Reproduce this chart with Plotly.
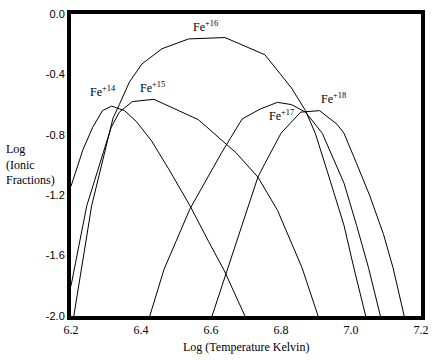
import plotly.graph_objects as go

# Log T (x) and Log ionic fraction (y) for each ion
fe14_x = [6.200, 6.234, 6.262, 6.290, 6.316, 6.353, 6.386, 6.430, 6.480, 6.540, 6.593, 6.638, 6.697]
fe14_y = [-1.14, -0.90, -0.75, -0.64, -0.61, -0.64, -0.71, -0.84, -1.03, -1.27, -1.506, -1.70, -2.00]

fe15_x = [6.200, 6.245, 6.300, 6.315, 6.338, 6.375, 6.437, 6.490, 6.564, 6.672, 6.734, 6.790, 6.840, 6.860, 6.906]
fe15_y = [-1.80, -1.27, -0.86, -0.75, -0.65, -0.58, -0.565, -0.62, -0.70, -0.92, -1.08, -1.30, -1.58, -1.68, -2.00]

fe16_x = [6.208, 6.259, 6.300, 6.320, 6.338, 6.367, 6.403, 6.460, 6.536, 6.640, 6.754, 6.830, 6.870, 6.898, 6.940, 6.980, 7.008, 7.042]
fe16_y = [-2.00, -1.27, -0.88, -0.69, -0.60, -0.45, -0.33, -0.23, -0.165, -0.156, -0.27, -0.49, -0.64, -0.79, -1.10, -1.40, -1.68, -2.00]

fe17_x = [6.425, 6.466, 6.500, 6.540, 6.630, 6.689, 6.740, 6.790, 6.830, 6.870, 6.918, 6.980, 7.016, 7.050, 7.084]
fe17_y = [-2.00, -1.69, -1.506, -1.29, -0.92, -0.695, -0.63, -0.585, -0.60, -0.65, -0.79, -1.12, -1.40, -1.68, -2.00]

fe18_x = [6.603, 6.668, 6.734, 6.754, 6.800, 6.856, 6.910, 6.960, 6.980, 7.016, 7.053, 7.093, 7.120, 7.152]
fe18_y = [-2.00, -1.55, -1.08, -0.99, -0.79, -0.65, -0.64, -0.73, -0.79, -0.99, -1.20, -1.46, -1.68, -2.00]

labels = ["Fe<sup>+14</sup>", "Fe<sup>+15</sup>", "Fe<sup>+16</sup>", "Fe<sup>+17</sup>", "Fe<sup>+18</sup>"]
label_x = [6.290, 6.432, 6.584, 6.800, 6.951]
label_y = [-0.513, -0.49, -0.084, -0.67, -0.56]

x_ticks = [6.2, 6.4, 6.6, 6.8, 7.0, 7.2]
y_ticks = [0.0, -0.4, -0.8, -1.2, -1.6, -2.0]

series = [(fe14_x, fe14_y), (fe15_x, fe15_y), (fe16_x, fe16_y), (fe17_x, fe17_y), (fe18_x, fe18_y)]

fig = go.Figure()
for (xs, ys), name in zip(series, labels):
    fig.add_trace(go.Scatter(x=xs, y=ys, mode="lines", name=name,
                             line=dict(color="black", width=1), showlegend=False,
                             cliponaxis=True))

for t, lx, ly in zip(labels, label_x, label_y):
    fig.add_annotation(x=lx, y=ly, text=t, showarrow=False,
                       font=dict(family="Liberation Serif", size=12, color="black"))

fig.add_annotation(xref="paper", yref="paper", x=0.5, y=-0.104, yanchor="middle",
                   text="Log (Temperature Kelvin)", showarrow=False,
                   font=dict(family="Liberation Serif", size=12, color="black"))
fig.add_annotation(xref="paper", yref="paper", x=-0.192, xanchor="left",
                   y=0.503, yanchor="middle", align="left",
                   text="Log<br>(Ionic<br>Fractions)", showarrow=False,
                   font=dict(family="Liberation Serif", size=12, color="black"))

fig.update_xaxes(range=[6.2, 7.2], tickvals=x_ticks, ticktext=[f"{v:.1f}" for v in x_ticks],
                 showgrid=False, zeroline=False, showline=True, linecolor="black",
                 linewidth=4, mirror=True, ticks="",
                 tickfont=dict(family="Liberation Serif", size=12, color="black"))
fig.update_yaxes(range=[-2.0, 0.0], tickvals=y_ticks, ticktext=[f"{v:.1f}" for v in y_ticks],
                 showgrid=False, zeroline=False, showline=True, linecolor="black",
                 linewidth=4, mirror=True, ticks="",
                 tickfont=dict(family="Liberation Sans", size=11, color="black"))

fig.update_layout(width=437, height=360, margin=dict(l=71, r=12, t=8, b=44),
                  plot_bgcolor="white", paper_bgcolor="white")

fig.write_html("out.html", config={"displayModeBar": False},
               post_script="document.body.style.margin='0';document.body.style.overflow='hidden';")
